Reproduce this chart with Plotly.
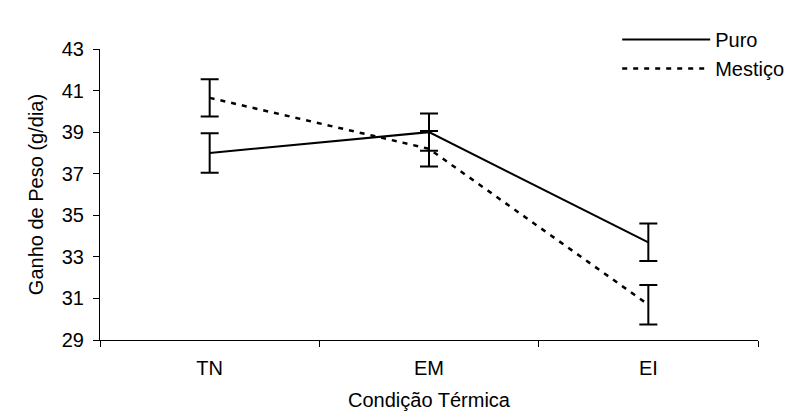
import plotly.graph_objects as go

categories = ["TN", "EM", "EI"]
puro = [38.0, 39.0, 33.7]
puro_err = [0.95, 0.9, 0.9]
mestico = [40.65, 38.2, 30.7]
mestico_err = [0.9, 0.85, 0.95]
y_ticks = [29, 31, 33, 35, 37, 39, 41, 43]

font = "Liberation Sans, Arial, sans-serif"
fs = 20

fig = go.Figure()
fig.add_trace(go.Scatter(
    x=categories, y=puro, name="Puro", mode="lines", legendgroup="a",
    line=dict(color="black", width=2),
    error_y=dict(type="data", array=puro_err, visible=True, color="black", thickness=2, width=9),
))
fig.add_trace(go.Scatter(
    x=categories, y=mestico, name="Mestiço", mode="lines", legendgroup="b",
    line=dict(color="black", width=2.5, dash="5px,6px"),
    error_y=dict(type="data", array=mestico_err, visible=True, color="black", thickness=2, width=9),
))

fig.update_layout(
    width=793, height=413,
    margin=dict(l=92, r=27, t=30, b=81),
    paper_bgcolor="white", plot_bgcolor="white",
    font=dict(family=font, size=fs, color="black"),
    showlegend=True,
    legend=dict(x=0.786, y=1.1, xanchor="left", yanchor="top",
                bgcolor="rgba(0,0,0,0)", borderwidth=0,
                font=dict(family=font, size=fs), itemwidth=88,
                tracegroupgap=0),
    xaxis=dict(
        type="category", range=[-0.5, 2.5],
        showline=True, linecolor="black", linewidth=1,
        ticks="outside", tickson="boundaries", ticklen=6, tickcolor="black",
        showgrid=False, zeroline=False, ticklabelstandoff=10,
        title=dict(text="Condição Térmica", font=dict(size=fs), standoff=14),
        tickfont=dict(size=fs),
    ),
    yaxis=dict(
        range=[29, 43], tickvals=y_ticks,
        showline=True, linecolor="black", linewidth=1,
        ticks="outside", ticklen=6, tickcolor="black",
        showgrid=False, zeroline=False, ticklabelstandoff=5,
        title=dict(text="Ganho de Peso (g/dia)", font=dict(size=fs), standoff=12),
        tickfont=dict(size=fs),
    ),
)

fig.write_html("out.html")
